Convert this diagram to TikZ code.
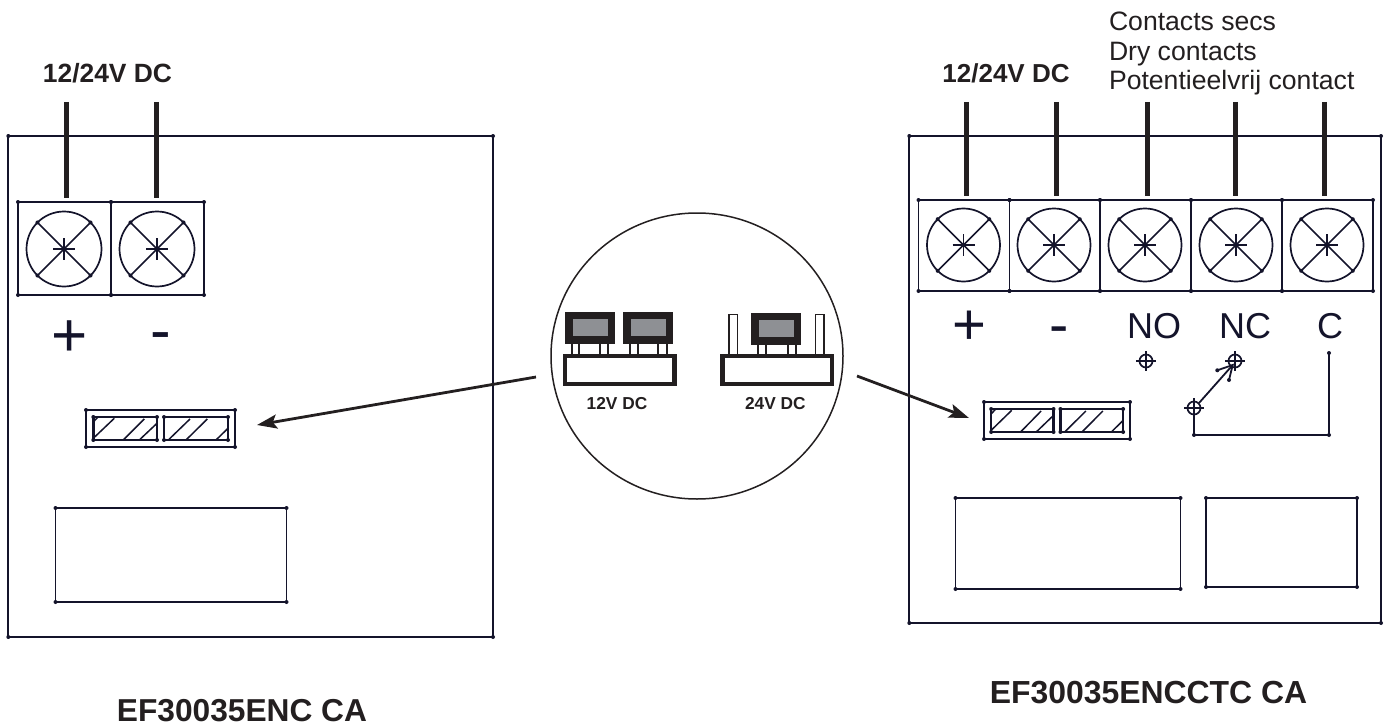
\documentclass[tikz,border=0pt]{standalone}
\usepackage{fontspec}
\setmainfont{Liberation Sans}
\usetikzlibrary{arrows.meta}
\definecolor{ink}{HTML}{14142B}
\definecolor{wirecol}{HTML}{231F20}
\definecolor{jumpgray}{HTML}{8E9094}
\tikzset{
  boardline/.style={draw=ink,line width=1.8pt},
  thinline/.style={draw=ink,line width=1.5pt},
  wire/.style={draw=wirecol,line width=5pt},
  pointer/.style={draw=wirecol,line width=2.8pt,-{Stealth[length=20pt,width=14pt,inset=4pt]}},
  txt/.style={inner sep=0pt,outer sep=0pt,text=wirecol,anchor=base},
  txtw/.style={inner sep=0pt,outer sep=0pt,text=wirecol,anchor=base west},
  sym/.style={inner sep=0pt,outer sep=0pt,text=ink,anchor=base},
  jumpbase/.style={draw=wirecol,line width=4.5pt,fill=white},
  pinline/.style={draw=wirecol,line width=1.7pt},
}
\newcommand{\dotrect}[5][boardline]{%
  \draw[#1] (#2,#3) rectangle (#4,#5);
  \foreach \px/\py in {#2/#3,#4/#3,#4/#5,#2/#5}{\fill[ink] (\px,\py) circle (2);}
}
\newcommand{\screw}[3]{% cx cy r
  \begin{scope}[shift={(#1,#2)}]
    \draw[thinline,line width=1.7pt] (0,0) circle (#3);
    \draw[thinline] (-#3*0.7071,-#3*0.7071) -- (#3*0.7071,#3*0.7071);
    \draw[thinline] (-#3*0.7071,#3*0.7071) -- (#3*0.7071,-#3*0.7071);
    \draw[thinline,line width=1.9pt] (-11,0) -- (11,0) (0,-11) -- (0,11);
    \foreach \sx/\sy in {-1/-1,1/-1,1/1,-1/1}{\fill[ink] (\sx*#3*0.7071,\sy*#3*0.7071) circle (2);}
  \end{scope}
}
\newcommand{\target}[2]{%
  \draw[thinline,line width=1.7pt] (#1,#2) circle (6.5);
  \draw[thinline] (#1-10,#2) -- (#1+10,#2) (#1,#2-10) -- (#1,#2+10);
}
\newcommand{\jumperblock}[2]{% left x, top y
  \fill[wirecol] (#1,#2) rectangle ++(50,32.3);
  \fill[jumpgray] (#1+7.6,#2+7.6) rectangle ++(35,16.8);
}
\newcommand{\connector}[3]{% x y xscale
  \begin{scope}[shift={(#1,#2)},xscale=#3]
    \dotrect{0}{0}{149}{37}
    \dotrect[boardline,line width=2.4pt]{7.3}{7}{71}{30}
    \dotrect[boardline,line width=2.4pt]{78}{7}{142}{30}
    \draw[thinline] (7.3,12) -- (11.5,7.5)
      (7.3,28.3) -- (28.3,8.3)
      (37.3,30) -- (58.3,9)
      (53.3,30) -- (71,13.3)
      (82.3,30) -- (104,9)
      (100,30) -- (121.3,9)
      (130,30) -- (142,18.3);
  \end{scope}
}
\begin{document}
\begin{tikzpicture}[x=1pt,y=-1pt]
\useasboundingbox (0,0) rectangle (1385,725);
% ---- left board
\dotrect{8.3}{136}{493}{637}
\dotrect{18}{202}{111}{295}
\dotrect{111}{202}{204}{295}
\draw[boardline,line width=2.4pt] (111,202) -- (111,295);
\screw{64}{249}{37.5}
\screw{157}{249}{37.5}
\foreach \n/\wx in {la/66.5,lb/156.5}{
  \coordinate (\n top) at (\wx,102);
  \coordinate (\n bot) at (\wx,198);
  \draw[wire] (\n top) -- (\n bot);
}
\node[txt,font=\bfseries\fontsize{26.4}{26.4}\selectfont] (lv) at (107.5,83) {12/24V DC};
\node[sym,font=\fontsize{62}{62}\selectfont] (lplus) at (69.5,356) {+};
\node[sym,font=\fontsize{62}{62}\selectfont] (lminus) at (160.5,351) {-};
\connector{86}{410}{1}
\dotrect{55.5}{508}{286.5}{602}
\node[txt,font=\bfseries\fontsize{31.7}{32}\selectfont] (lname) at (242,721) {EF30035ENC CA};
% ---- right board
\dotrect{909.3}{136}{1381}{623}
\foreach \tx/\ty in {918.5/1009.5,1009.5/1100,1100/1191,1191/1282,1282/1373}{
  \dotrect{\tx}{200}{\ty}{291}
}
\draw[boardline,line width=2.4pt] (1100,200) -- (1100,291) (1191,200) -- (1191,291) (1282,200) -- (1282,291);
\foreach \cx in {963.5,1054,1145,1236,1327}{\screw{\cx}{245}{36.5}}
\foreach \n/\wx in {ra/966.5,rb/1056,rc/1147,rd/1235,re/1324.5}{
  \coordinate (\n top) at (\wx,102);
  \coordinate (\n bot) at (\wx,196);
  \draw[wire] (\n top) -- (\n bot);
}
\node[txt,font=\bfseries\fontsize{26}{26}\selectfont] (rv) at (1006,83) {12/24V DC};
\node[txtw,font=\fontsize{26.6}{26.6}\selectfont] (cs) at (1109,31) {Contacts secs};
\node[txtw,font=\fontsize{26.6}{26.6}\selectfont] (cd) at (1109,60.5) {Dry contacts};
\node[txtw,font=\fontsize{26.6}{26.6}\selectfont] (cp) at (1109,90) {Potentieelvrij contact};
\node[sym,font=\fontsize{58}{58}\selectfont] (rplus) at (969,344) {+};
\node[sym,font=\fontsize{58}{58}\selectfont] (rminus) at (1059,344) {-};
\node[sym,font=\fontsize{36}{36}\selectfont] (no) at (1154,338) {NO};
\node[sym,font=\fontsize{36}{36}\selectfont] (nc) at (1245,338) {NC};
\node[sym,font=\fontsize{36}{36}\selectfont] (cc) at (1330,338) {C};
\connector{984}{402}{0.98}
\target{1146}{361}
\target{1235}{361}
\target{1194}{408}
\draw[boardline] (1194,408) -- (1194,435) -- (1329,435) -- (1329,353);
\foreach \px/\py in {1194/435,1329/435,1329/353,1217.3/370.3,1229/380}{\fill[ink] (\px,\py) circle (2);}
\draw[boardline] (1199,403) -- (1232.7,365);
\draw[boardline] (1217.3,370.3) -- (1232.7,365) -- (1229,380);
\dotrect{955.5}{498}{1180.5}{589}
\dotrect{1206}{498}{1357}{587}
\node[txt,font=\bfseries\fontsize{31.9}{32}\selectfont] (rname) at (1148.5,703) {EF30035ENCCTC CA};
% ---- magnifier circle
\draw[draw=wirecol,line width=1.5pt] (697,356) ellipse (146 and 143);
% jumpers
\foreach \px in {571.7,579.3,600,608.3,630,638.3,658.3,666.7,757.7,766,787.7,795.7}{
  \draw[pinline] (\px,343) -- (\px,355);
}
\jumperblock{565}{311.7}
\jumperblock{623.2}{311.7}
\jumperblock{751}{312.7}
\draw[pinline,fill=white] (728.8,314.5) rectangle (737.5,356);
\draw[pinline,fill=white] (815.5,314.5) rectangle (824,356);
\draw[jumpbase] (565,356.2) rectangle (674.5,383.8);
\draw[jumpbase] (722.3,356.2) rectangle (831.8,383.8);
\node[txt,font=\bfseries\fontsize{17.3}{17.3}\selectfont] (j12) at (617,409) {12V DC};
\node[txt,font=\bfseries\fontsize{17.3}{17.3}\selectfont] (j24) at (775.3,409) {24V DC};
% ---- arrows
\coordinate (al) at (536,377);
\coordinate (ar) at (857,376);
\coordinate (tl) at (257,425);
\coordinate (tr) at (969,418);
\draw[pointer] (al) -- (tl);
\draw[pointer] (ar) -- (tr);
\end{tikzpicture}
\end{document}
